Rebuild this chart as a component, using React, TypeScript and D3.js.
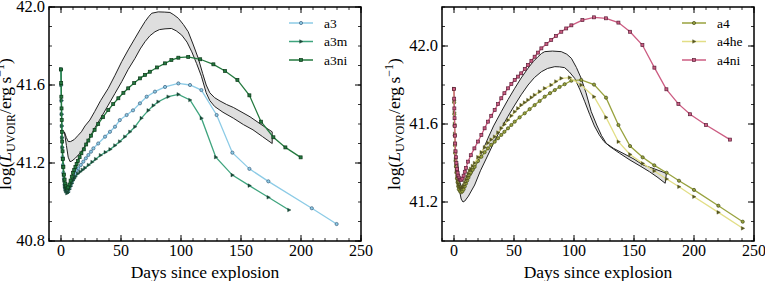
import * as d3 from 'd3';

type Pt = [number, number];

// left panel series: [days since explosion, log L]
const a3: Pt[] = [[0,41.68],[0.15,41.6],[0.3,41.52],[0.45,41.45],[0.6,41.39],[0.8,41.33],[1,41.28],[1.3,41.23],[1.6,41.19],[2,41.15],[2.5,41.12],[3,41.09],[3.5,41.07],[4,41.06],[5,41.05],[6,41.055],[7,41.07],[8,41.085],[9,41.1],[10,41.115],[11,41.13],[12,41.145],[13,41.16],[14.4,41.173],[16.5,41.19],[18.6,41.207],[20.7,41.224],[22.8,41.241],[25,41.258],[27,41.275],[31,41.3],[36.7,41.335],[40.8,41.36],[45,41.386],[49,41.42],[54.7,41.446],[60,41.47],[65.8,41.506],[71.4,41.54],[78.3,41.566],[86.7,41.59],[97.8,41.608],[107.5,41.6],[117,41.574],[129.7,41.446],[142.8,41.253],[157,41.17],[172.8,41.106],[209,40.968],[229.7,40.887]];
const a3m: Pt[] = [[0,41.68],[0.15,41.6],[0.3,41.52],[0.45,41.45],[0.6,41.39],[0.8,41.33],[1,41.28],[1.3,41.22],[1.6,41.18],[2,41.14],[2.5,41.11],[3,41.08],[3.5,41.065],[4,41.055],[5,41.045],[6,41.05],[7,41.065],[8,41.08],[9,41.095],[10,41.11],[11,41.12],[12,41.13],[14,41.145],[16,41.155],[18,41.165],[20,41.175],[23,41.19],[26,41.205],[29,41.22],[33,41.24],[37,41.255],[41,41.27],[45,41.29],[49,41.31],[53.3,41.335],[57.5,41.36],[61.7,41.386],[67,41.43],[72.8,41.47],[77,41.495],[81,41.514],[89.4,41.54],[97.8,41.552],[107.5,41.523],[117,41.43],[129,41.23],[142.8,41.138],[157,41.084],[172.8,41.024],[190,40.959]];
const a3ni: Pt[] = [[0,41.68],[0.15,41.61],[0.3,41.54],[0.45,41.48],[0.6,41.42],[0.8,41.36],[1,41.31],[1.3,41.26],[1.6,41.22],[2,41.18],[2.5,41.14],[3,41.115],[3.5,41.095],[4,41.08],[5,41.07],[6,41.075],[7,41.09],[8,41.11],[9,41.13],[10,41.15],[11,41.165],[12,41.18],[13,41.195],[14,41.21],[15.5,41.23],[17,41.25],[19,41.27],[21,41.295],[22.8,41.315],[25,41.34],[28,41.37],[31,41.4],[35,41.435],[39.4,41.472],[43.5,41.502],[47.8,41.532],[52,41.56],[56,41.583],[61,41.61],[65.8,41.634],[70,41.652],[74,41.668],[80,41.69],[86.7,41.711],[92,41.728],[97.8,41.74],[106,41.744],[116,41.732],[127,41.706],[136.7,41.672],[147,41.626],[157,41.547],[166.7,41.412],[177,41.332],[187,41.28],[199.7,41.229]];
const bandLeftUpper: Pt[] = [[2.8,41.36],[4.5,41.33],[6,41.31],[8,41.31],[11,41.32],[14,41.34],[17,41.36],[20,41.39],[24,41.42],[28,41.463],[33,41.52],[39.4,41.583],[45,41.65],[50.6,41.72],[56,41.78],[61.7,41.84],[66,41.885],[70,41.925],[73,41.95],[75.6,41.968],[81,41.975],[86,41.974],[90.8,41.972],[94,41.96],[97.8,41.942],[102,41.91],[106,41.873],[110,41.81],[114.4,41.737],[118,41.66],[121,41.6],[124,41.56],[128,41.535],[132.5,41.518],[138,41.5],[143.6,41.485],[150,41.463],[157.5,41.437],[165,41.405],[171,41.38],[176,41.36]];
const bandLeftLower: Pt[] = [[2.8,41.36],[4.5,41.29],[6,41.23],[7.5,41.207],[9,41.21],[12,41.225],[17,41.258],[22,41.31],[28,41.378],[34,41.44],[39.4,41.497],[45,41.557],[50.6,41.617],[56,41.68],[61.7,41.737],[66,41.785],[70,41.822],[74,41.852],[78.3,41.873],[82,41.884],[86.7,41.888],[92,41.89],[96,41.878],[100.6,41.856],[105,41.82],[109,41.77],[113,41.71],[117,41.645],[121,41.56],[124,41.52],[128,41.49],[135,41.46],[143.6,41.43],[152,41.397],[160,41.37],[168,41.335],[176,41.3]];

// right panel series
const a4: Pt[] = [[0,41.78],[0.15,41.71],[0.3,41.65],[0.45,41.59],[0.6,41.54],[0.8,41.49],[1,41.45],[1.3,41.41],[1.6,41.38],[2,41.35],[2.5,41.32],[3,41.3],[3.5,41.28],[4,41.265],[5,41.255],[6,41.25],[7,41.255],[8,41.265],[9,41.28],[10,41.295],[11,41.31],[12,41.325],[13,41.34],[14,41.35],[15.5,41.365],[17.2,41.38],[20,41.41],[22.8,41.432],[25.5,41.455],[28.3,41.475],[31,41.493],[33.9,41.509],[36.7,41.527],[39.4,41.544],[42,41.56],[45,41.578],[47.8,41.595],[50.6,41.612],[54.7,41.634],[58.9,41.655],[63,41.676],[67.2,41.697],[71.4,41.718],[75.6,41.74],[80,41.758],[84,41.774],[88,41.79],[92.2,41.804],[97.8,41.822],[106,41.826],[116.7,41.802],[126.7,41.735],[137,41.595],[146.7,41.487],[157.2,41.429],[166.9,41.388],[177.2,41.35],[187.5,41.309],[200,41.262],[220.3,41.181],[240.6,41.099]];
const a4he: Pt[] = [[0,41.78],[0.15,41.72],[0.3,41.66],[0.45,41.6],[0.6,41.55],[0.8,41.5],[1,41.46],[1.3,41.42],[1.6,41.39],[2,41.36],[2.5,41.33],[3,41.31],[3.5,41.295],[4,41.285],[5,41.275],[6,41.27],[7,41.275],[8,41.285],[9,41.3],[10,41.315],[11,41.33],[12,41.345],[13,41.36],[14,41.37],[15.5,41.385],[17.2,41.4],[20,41.43],[22.8,41.455],[25.5,41.48],[28.3,41.503],[31,41.52],[33.9,41.535],[36.7,41.556],[39.4,41.578],[42,41.598],[45,41.62],[47.8,41.642],[50.6,41.663],[53.3,41.68],[56,41.697],[58.9,41.71],[61.7,41.723],[64.5,41.736],[67.2,41.749],[71.4,41.766],[75.6,41.783],[81,41.8],[85,41.818],[89.4,41.834],[96.4,41.838],[106,41.8],[116.7,41.74],[126.7,41.634],[137,41.509],[146.7,41.444],[157.2,41.398],[166.9,41.359],[177.2,41.318],[187.5,41.278],[200,41.227],[220.3,41.147],[240.6,41.065]];
const a4ni: Pt[] = [[0,41.78],[0.15,41.73],[0.3,41.68],[0.45,41.63],[0.6,41.59],[0.8,41.54],[1,41.5],[1.3,41.46],[1.6,41.43],[2,41.4],[2.5,41.37],[3,41.35],[3.5,41.335],[4,41.325],[5,41.315],[6,41.313],[7,41.32],[8,41.335],[9,41.355],[10,41.375],[11.7,41.407],[14,41.44],[17,41.475],[20,41.51],[22.8,41.544],[25.5,41.578],[28.3,41.612],[31,41.642],[33.9,41.672],[36.7,41.702],[39.4,41.732],[42,41.758],[45,41.783],[47.8,41.805],[50.6,41.826],[53.3,41.843],[56,41.86],[59,41.882],[61.7,41.903],[64.5,41.924],[67.2,41.945],[70,41.966],[72.8,41.988],[77,42.01],[81,42.031],[85,42.052],[89.4,42.073],[93.5,42.09],[97.8,42.106],[107,42.133],[116.7,42.147],[126.7,42.142],[137,42.12],[146.7,42.073],[157,42.005],[167,41.889],[177,41.778],[187,41.703],[196.7,41.65],[210,41.595],[230,41.52]];
const bandRightUpper: Pt[] = [[3,41.4],[4.5,41.31],[6,41.28],[8,41.285],[11,41.31],[14,41.34],[17.2,41.373],[20,41.41],[24,41.465],[28.3,41.527],[33,41.59],[39.4,41.663],[45,41.725],[50.6,41.783],[56,41.836],[61.7,41.886],[66,41.92],[70,41.945],[73,41.962],[75.6,41.971],[82,41.974],[89.4,41.971],[94,41.958],[97.8,41.937],[102,41.89],[106,41.834],[110,41.76],[114.4,41.663],[118.9,41.595],[123,41.54],[127,41.5],[133,41.475],[140.8,41.45],[150,41.42],[157.5,41.39],[167,41.37],[177,41.347]];
const bandRightLower: Pt[] = [[3,41.4],[4.5,41.26],[6,41.215],[7.5,41.2],[9,41.205],[12,41.23],[17.2,41.287],[22,41.36],[28.3,41.441],[34,41.515],[39.4,41.578],[45,41.64],[50.6,41.697],[56,41.75],[61.7,41.8],[67,41.838],[72.8,41.868],[78,41.885],[84,41.894],[88,41.893],[92.2,41.889],[96,41.868],[100.6,41.834],[105,41.775],[109,41.714],[113,41.65],[117,41.59],[121,41.545],[125,41.51],[130,41.484],[138,41.45],[146.7,41.415],[155,41.385],[163,41.355],[170,41.325],[176,41.296]];

const xTicks = [0, 50, 100, 150, 200, 250];
const yTicksLeft = [40.8, 41.2, 41.6, 42.0];
const yTicksRight = [41.2, 41.6, 42.0];

type Series = { name: string; data: Pt[]; color: string; edge: string; marker: 'circle' | 'tri' | 'square' };

const leftSeries: Series[] = [
  { name: 'a3', data: a3, color: '#8ccbe6', edge: '#3d5f7c', marker: 'circle' },
  { name: 'a3m', data: a3m, color: '#3fa47e', edge: '#1a4a38', marker: 'tri' },
  { name: 'a3ni', data: a3ni, color: '#23793e', edge: '#0c3518', marker: 'square' },
];
const rightSeries: Series[] = [
  { name: 'a4', data: a4, color: '#98a23e', edge: '#454a18', marker: 'circle' },
  { name: 'a4he', data: a4he, color: '#e2de86', edge: '#55551e', marker: 'tri' },
  { name: 'a4ni', data: a4ni, color: '#cc5c82', edge: '#5a2038', marker: 'square' },
];

const serif = { fontFamily: "'Liberation Serif', 'DejaVu Serif', serif" };
const top = 7;
const bottom = 241;

function Marker({ x, y, s }: { x: number; y: number; s: Series }) {
  if (s.marker === 'circle')
    return <circle cx={x} cy={y} r={1.6} fill={s.color} stroke={s.edge} strokeWidth={0.7} />;
  if (s.marker === 'square')
    return <rect x={x - 1.5} y={y - 1.5} width={3} height={3} fill={s.color} stroke={s.edge} strokeWidth={0.7} />;
  return <path d={`M${x + 2},${y} L${x - 1.4},${y - 1.8} L${x - 1.4},${y + 1.8} Z`} fill={s.edge} stroke={s.edge} strokeWidth={0.4} />;
}

function Panel({ left, right, yDomain, yTicks, series, upper, lower, labelX }: {
  left: number; right: number; yDomain: [number, number]; yTicks: number[];
  series: Series[]; upper: Pt[]; lower: Pt[]; labelX: number;
}) {
  const x = d3.scaleLinear().domain([-10, 250]).range([left, right]);
  const y = d3.scaleLinear().domain(yDomain).range([bottom, top]);
  const line = d3.line<Pt>().x(d => x(d[0])).y(d => y(d[1]));
  const band = line([...upper, ...lower.slice().reverse()]) + 'Z';
  const minorX = d3.range(-10, 251, 10);
  const minorY = d3.range(Math.round(yDomain[0] * 10), Math.round(yDomain[1] * 10) + 1).map(v => v / 10);
  const legX = right - 60;
  const cy = (top + bottom) / 2;

  return (
    <g>
      <path d={band} fill="#dedede" stroke="#222" strokeWidth={1} />
      {series.map(s => (
        <g key={s.name}>
          <path d={line(s.data) || ''} fill="none" stroke={s.color} strokeWidth={1.3} />
          {s.data.map((d, i) => <Marker key={i} x={x(d[0])} y={y(d[1])} s={s} />)}
        </g>
      ))}
      {/* ticks, inward on all sides */}
      {minorX.map(v => (
        <g key={'mx' + v} stroke="#000" strokeWidth={0.8}>
          <line x1={x(v)} x2={x(v)} y1={bottom} y2={bottom - 3} />
          <line x1={x(v)} x2={x(v)} y1={top} y2={top + 3} />
        </g>
      ))}
      {xTicks.map(v => (
        <g key={'x' + v}>
          <line x1={x(v)} x2={x(v)} y1={bottom} y2={bottom - 6} stroke="#000" strokeWidth={1} />
          <line x1={x(v)} x2={x(v)} y1={top} y2={top + 6} stroke="#000" strokeWidth={1} />
          <text x={x(v)} y={256} textAnchor="middle" fontSize={16} style={serif}>{v}</text>
        </g>
      ))}
      {minorY.map(v => (
        <g key={'my' + v} stroke="#000" strokeWidth={0.8}>
          <line x1={left} x2={left + 3} y1={y(v)} y2={y(v)} />
          <line x1={right} x2={right - 3} y1={y(v)} y2={y(v)} />
        </g>
      ))}
      {yTicks.map(v => (
        <g key={'y' + v}>
          <line x1={left} x2={left + 6} y1={y(v)} y2={y(v)} stroke="#000" strokeWidth={1} />
          <line x1={right} x2={right - 6} y1={y(v)} y2={y(v)} stroke="#000" strokeWidth={1} />
          <text x={left - 4} y={y(v) + 5} textAnchor="end" fontSize={16.5} style={serif}>{v.toFixed(1)}</text>
        </g>
      ))}
      <rect x={left} y={top} width={right - left} height={bottom - top} fill="none" stroke="#000" strokeWidth={1.5} />
      <text x={(left + right) / 2} y={278} textAnchor="middle" fontSize={17.5} style={serif}>Days since explosion</text>
      <text transform={`translate(${labelX},${cy}) rotate(-90)`} textAnchor="middle" fontSize={17.5} style={serif}>
        log(<tspan fontStyle="italic">L</tspan>
        <tspan fontSize={12} dy={4}>UVOIR</tspan>
        <tspan dy={-4}>/erg{'\u2009'}s</tspan>
        <tspan fontSize={12} dy={-7.5}>{'\u22121'}</tspan>
        <tspan dy={7.5}>)</tspan>
      </text>
      {series.map((s, i) => {
        const ly = 23 + i * 18.5;
        return (
          <g key={'leg' + s.name}>
            <line x1={legX - 12} x2={legX + 12} y1={ly} y2={ly} stroke={s.color} strokeWidth={1.5} />
            <Marker x={legX} y={ly} s={s} />
            <text x={legX + 23} y={ly + 4.5} fontSize={13.5} style={serif}>{s.name}</text>
          </g>
        );
      })}
    </g>
  );
}

export default function App() {
  return (
    <svg width={765} height={281} style={{ display: 'block', position: 'absolute', left: 0, top: 0 }}>
      <rect width={765} height={281} fill="#fff" />
      <Panel left={49} right={361} yDomain={[40.8, 42.0]} yTicks={yTicksLeft} series={leftSeries}
        upper={bandLeftUpper} lower={bandLeftLower} labelX={11} />
      <Panel left={442} right={754} yDomain={[41.0, 42.2]} yTicks={yTicksRight} series={rightSeries}
        upper={bandRightUpper} lower={bandRightLower} labelX={400} />
    </svg>
  );
}
